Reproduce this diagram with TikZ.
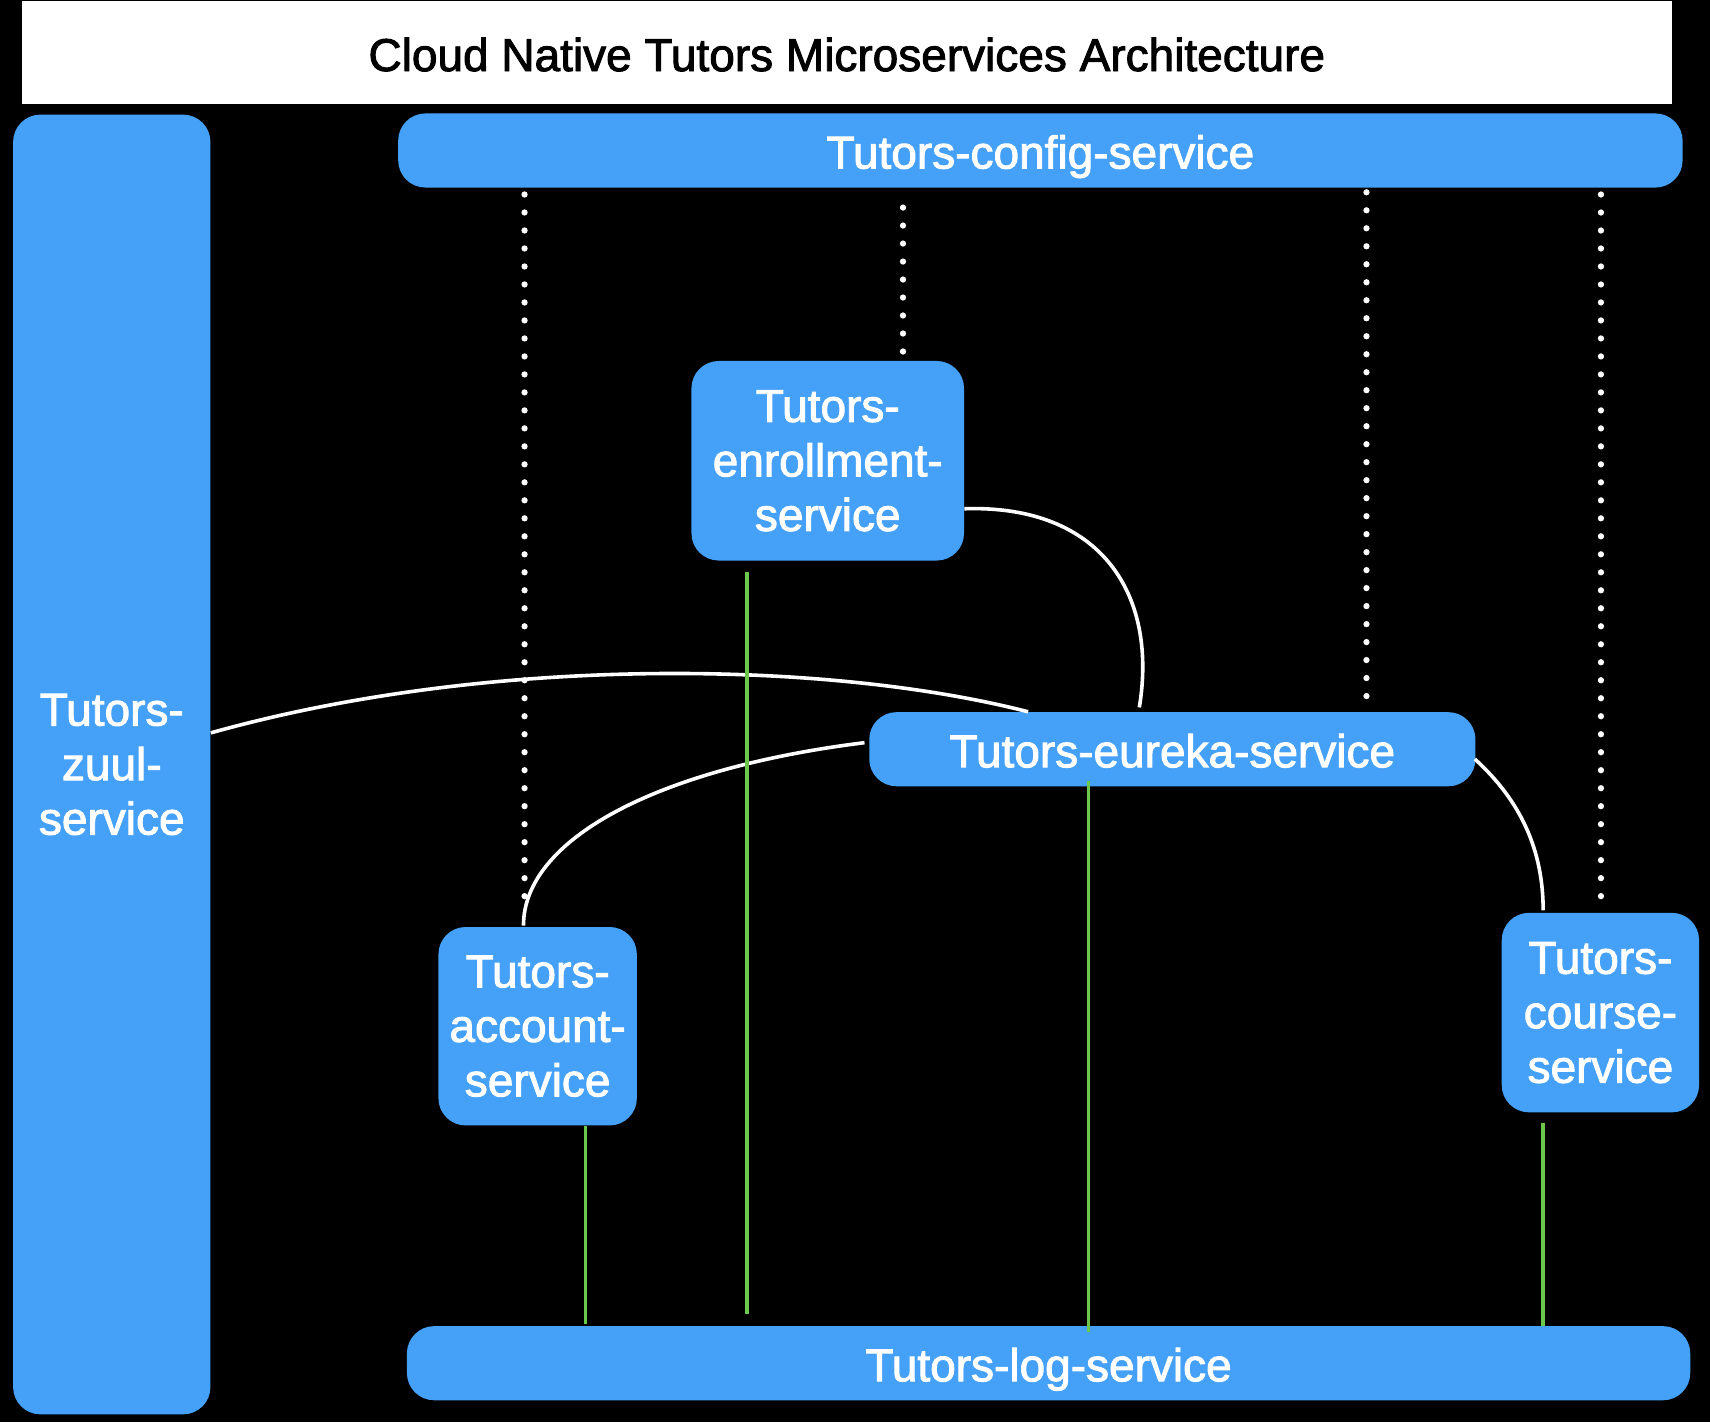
\documentclass[tikz,border=0pt]{standalone}
\usepackage{fontspec}
\setmainfont[FakeBold=2]{Liberation Sans}
\usetikzlibrary{calc}
\definecolor{svcblue}{RGB}{69,161,248}
\definecolor{lnkgreen}{RGB}{108,200,76}
\begin{document}
\begin{tikzpicture}[x=0.02cm,y=-0.02cm,
  svc/.style={fill=svcblue, rounded corners=0.5cm, text=white, align=center, inner sep=0pt, font=\fontsize{24}{28.45}\selectfont},
  barlabel/.style={text height=18.8pt, text depth=0pt},
  dotline/.style={white, line width=0.115cm, line cap=round, dash pattern=on 0pt off 0.33cm},
  wire/.style={white, line width=0.066cm},
  loglink/.style={lnkgreen, line width=0.064cm}]
\fill[black] (0,0) rectangle (1568,1304);
\useasboundingbox (0,0) rectangle (1568,1304);
\node[fill=white, minimum width=30.26cm, minimum height=1.88cm, inner sep=0pt, font=\fontsize{24}{28}\selectfont, text=black, text height=19.5pt, text depth=0pt] (title) at (776.5,48) {Cloud Native Tutors Microservices Architecture};
\node[svc, minimum width=3.62cm, minimum height=23.84cm] (zuul) at (102.5,701) {Tutors-\\zuul-\\service};
\node[svc, barlabel, minimum width=23.56cm, minimum height=1.36cm] (config) at (954,138) {Tutors-config-service};
\node[svc, minimum width=5cm, minimum height=3.66cm] (enrollment) at (759,422.5) {Tutors-\\enrollment-\\service};
\node[svc, barlabel, minimum width=11.12cm, minimum height=1.36cm] (eureka) at (1075,687) {Tutors-eureka-service};
\node[svc, minimum width=3.64cm, minimum height=3.64cm] (account) at (493,941) {Tutors-\\account-\\service};
\node[svc, minimum width=3.62cm, minimum height=3.66cm] (course) at (1467.5,928.5) {Tutors-\\course-\\service};
\node[svc, barlabel, minimum width=23.54cm, minimum height=1.36cm] (log) at (961.5,1250) {Tutors-log-service};
% white connectors
\draw[wire] ($(zuul.east)+(0,-29)$) .. controls +(257,-72) and +(-183,-47) .. ($(eureka.north west)+(146,0)$);
\draw[wire] ($(enrollment.east)+(0,44)$) .. controls +(126,-4) and +(17,-103) .. ($(eureka.north west)+(248,-4)$);
\draw[wire] ($(eureka.west)+(-4,-6)$) .. controls +(-193,24) and +(0,-78) .. ($(account.north)+(-13,-1)$);
\draw[wire] ($(eureka.east)+(-1,9)$) .. controls +(43,39) and +(0,-54) .. ($(course.north)+(-52.5,-2)$);
% green log links
\draw[loglink] ($(enrollment.south)+(-74,10)$) -- ($(enrollment.south |- log.north)+(-74,-11)$);
\draw[loglink] ($(eureka.south)+(-77,-5)$) -- ($(eureka.south |- log.north)+(-77,6)$);
\draw[loglink] ($(account.south)+(44,0)$) -- ($(account.south |- log.north)+(44,-2)$);
\draw[loglink] ($(course.south)+(-52.5,9)$) -- ($(course.south |- log.north)+(-52.5,0)$);
% dotted config links
\draw[dotline] ($(account.north |- config.south)+(-12,6)$) -- ($(account.north)+(-12,-27)$);
\draw[dotline] ($(enrollment.north |- config.south)+(69,18)$) -- ($(enrollment.north)+(69,-5)$);
\draw[dotline] ($(eureka.north |- config.south)+(178,4)$) -- ($(eureka.north)+(178,2)$);
\draw[dotline] ($(course.north |- config.south)+(0.5,6)$) -- ($(course.north)+(0.5,-12)$);
\end{tikzpicture}
\end{document}
